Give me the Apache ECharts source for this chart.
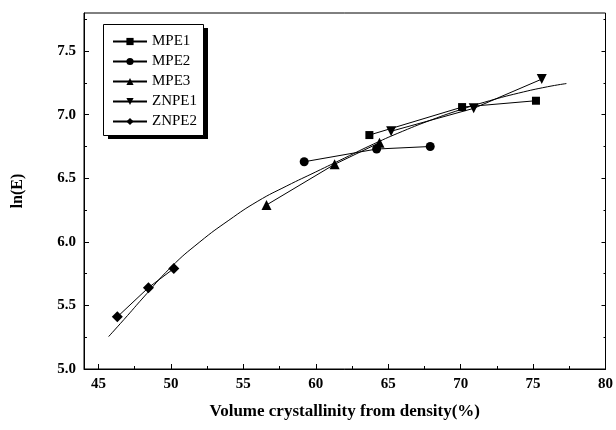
<!DOCTYPE html>
<html>
<head>
<meta charset="utf-8">
<script src="https://cdn.jsdelivr.net/npm/echarts@6/dist/echarts.min.js"></script>
<style>
  html, body { margin: 0; padding: 0; background: #fff; }
  #main { width: 616px; height: 430px; }
</style>
</head>
<body>
<div id="main"></div>
<script>
// values
var mpe1X = [63.7, 70.1, 75.2];
var mpe1Y = [6.84, 7.06, 7.11];
var mpe2X = [59.2, 64.2, 67.9];
var mpe2Y = [6.63, 6.73, 6.75];
var mpe3X = [56.6, 61.3, 64.4];
var mpe3Y = [6.29, 6.61, 6.78];
var znpe1X = [65.2, 70.9, 75.6];
var znpe1Y = [6.87, 7.05, 7.28];
var znpe2X = [46.3, 48.45, 50.2];
var znpe2Y = [5.41, 5.64, 5.79];

// fitted curve, read point by point
var fitX = [45.7, 47, 48, 50, 52, 54, 56, 58, 60, 62, 64, 66, 68, 70, 72, 74, 76, 77.3];
var fitY = [5.255, 5.42, 5.55, 5.80, 6.00, 6.17, 6.32, 6.44, 6.55, 6.66, 6.77, 6.87, 6.96, 7.04, 7.11, 7.17, 7.22, 7.245];

// ticks
var xMajor = [45, 50, 55, 60, 65, 70, 75, 80];
var xMinor = [47.5, 52.5, 57.5, 62.5, 67.5, 72.5, 77.5];
var yMajor = [5.0, 5.5, 6.0, 6.5, 7.0, 7.5];
var yMinor = [5.25, 5.75, 6.25, 6.75, 7.25, 7.75];

function zip(xs, ys) {
  return xs.map(function (x, i) { return [x, ys[i]]; });
}

var FONT = 'Liberation Serif';
var downTri = 'path://M0,0 L10,0 L5,9 Z';

function lineSeries(name, xs, ys, symbol, size) {
  return {
    name: name,
    type: 'line',
    data: zip(xs, ys),
    symbol: symbol,
    symbolSize: size,
    showSymbol: true,
    lineStyle: { color: '#000', width: 1 },
    itemStyle: { color: '#000' },
    animation: false
  };
}

var xRange = { min: 44, max: 80 };
var yRange = { min: 5, max: 7.8 };

var chart = echarts.init(document.getElementById('main'));
chart.setOption({
  backgroundColor: '#fff',
  animation: false,
  grid: {
    left: 84, top: 13, right: 9, bottom: 61,
    show: true, borderColor: '#000', borderWidth: 1
  },
  // legend frame with the hard drop shadow
  graphic: [
    { type: 'rect', z: 3, shape: { x: 108, y: 28, width: 100, height: 111 }, style: { fill: '#000' } },
    { type: 'rect', z: 3, shape: { x: 103.5, y: 24.5, width: 100, height: 111 }, style: { fill: '#fff', stroke: '#000', lineWidth: 1 } }
  ],
  legend: {
    left: 103, top: 24, z: 5,
    orient: 'vertical',
    data: ['MPE1', 'MPE2', 'MPE3', 'ZNPE1', 'ZNPE2'],
    itemWidth: 34, itemHeight: 9, itemGap: 5,
    padding: [10, 8, 7, 9],
    textStyle: { fontFamily: FONT, fontSize: 15, color: '#000' }
  },
  xAxis: [
    {
      type: 'value', min: xRange.min, max: xRange.max,
      name: 'Volume crystallinity from density(%)',
      nameLocation: 'middle', nameGap: 34,
      nameTextStyle: { fontFamily: FONT, fontSize: 17, fontWeight: 'bold', color: '#000' },
      axisLine: { lineStyle: { color: '#000', width: 1 } },
      axisTick: { inside: true, length: 5, customValues: xMajor, lineStyle: { color: '#000' } },
      axisLabel: { customValues: xMajor, margin: 8, fontFamily: FONT, fontSize: 15, fontWeight: 'bold', color: '#000' },
      splitLine: { show: false }
    },
    {
      type: 'value', min: xRange.min, max: xRange.max, position: 'bottom',
      axisLine: { show: false },
      axisTick: { inside: true, length: 3, customValues: xMinor, lineStyle: { color: '#000' } },
      axisLabel: { show: false },
      splitLine: { show: false }
    }
  ],
  yAxis: [
    {
      type: 'value', min: yRange.min, max: yRange.max,
      name: 'ln(E)',
      nameLocation: 'middle', nameGap: 58, nameRotate: 90,
      nameTextStyle: { fontFamily: FONT, fontSize: 16, fontWeight: 'bold', color: '#000' },
      axisLine: { show: true, lineStyle: { color: '#000', width: 1 } },
      axisTick: { show: true, inside: true, length: 5, customValues: yMajor, lineStyle: { color: '#000' } },
      axisLabel: {
        customValues: yMajor, margin: 8, fontFamily: FONT, fontSize: 15, fontWeight: 'bold', color: '#000',
        formatter: function (v) { return v.toFixed(1); }
      },
      splitLine: { show: false }
    },
    {
      type: 'value', min: yRange.min, max: yRange.max, position: 'left',
      axisLine: { show: false },
      axisTick: { show: true, inside: true, length: 3, customValues: yMinor, lineStyle: { color: '#000' } },
      axisLabel: { show: false },
      splitLine: { show: false }
    },
    {
      type: 'value', min: yRange.min, max: yRange.max, position: 'right',
      axisLine: { show: false },
      axisTick: { show: true, inside: true, length: 4, customValues: yMajor, lineStyle: { color: '#000' } },
      axisLabel: { show: false },
      splitLine: { show: false }
    },
    {
      type: 'value', min: yRange.min, max: yRange.max, position: 'right',
      axisLine: { show: false },
      axisTick: { show: true, inside: true, length: 2, customValues: yMinor, lineStyle: { color: '#000' } },
      axisLabel: { show: false },
      splitLine: { show: false }
    }
  ],
  series: [
    {
      name: 'fit',
      type: 'line',
      data: zip(fitX, fitY),
      smooth: true,
      symbol: 'none',
      lineStyle: { color: '#000', width: 1 },
      animation: false
    },
    lineSeries('MPE1', mpe1X, mpe1Y, 'rect', 8),
    lineSeries('MPE2', mpe2X, mpe2Y, 'circle', 9),
    lineSeries('MPE3', mpe3X, mpe3Y, 'triangle', 10),
    lineSeries('ZNPE1', znpe1X, znpe1Y, downTri, 10),
    lineSeries('ZNPE2', znpe2X, znpe2Y, 'diamond', 11)
  ]
});
</script>
</body>
</html>
